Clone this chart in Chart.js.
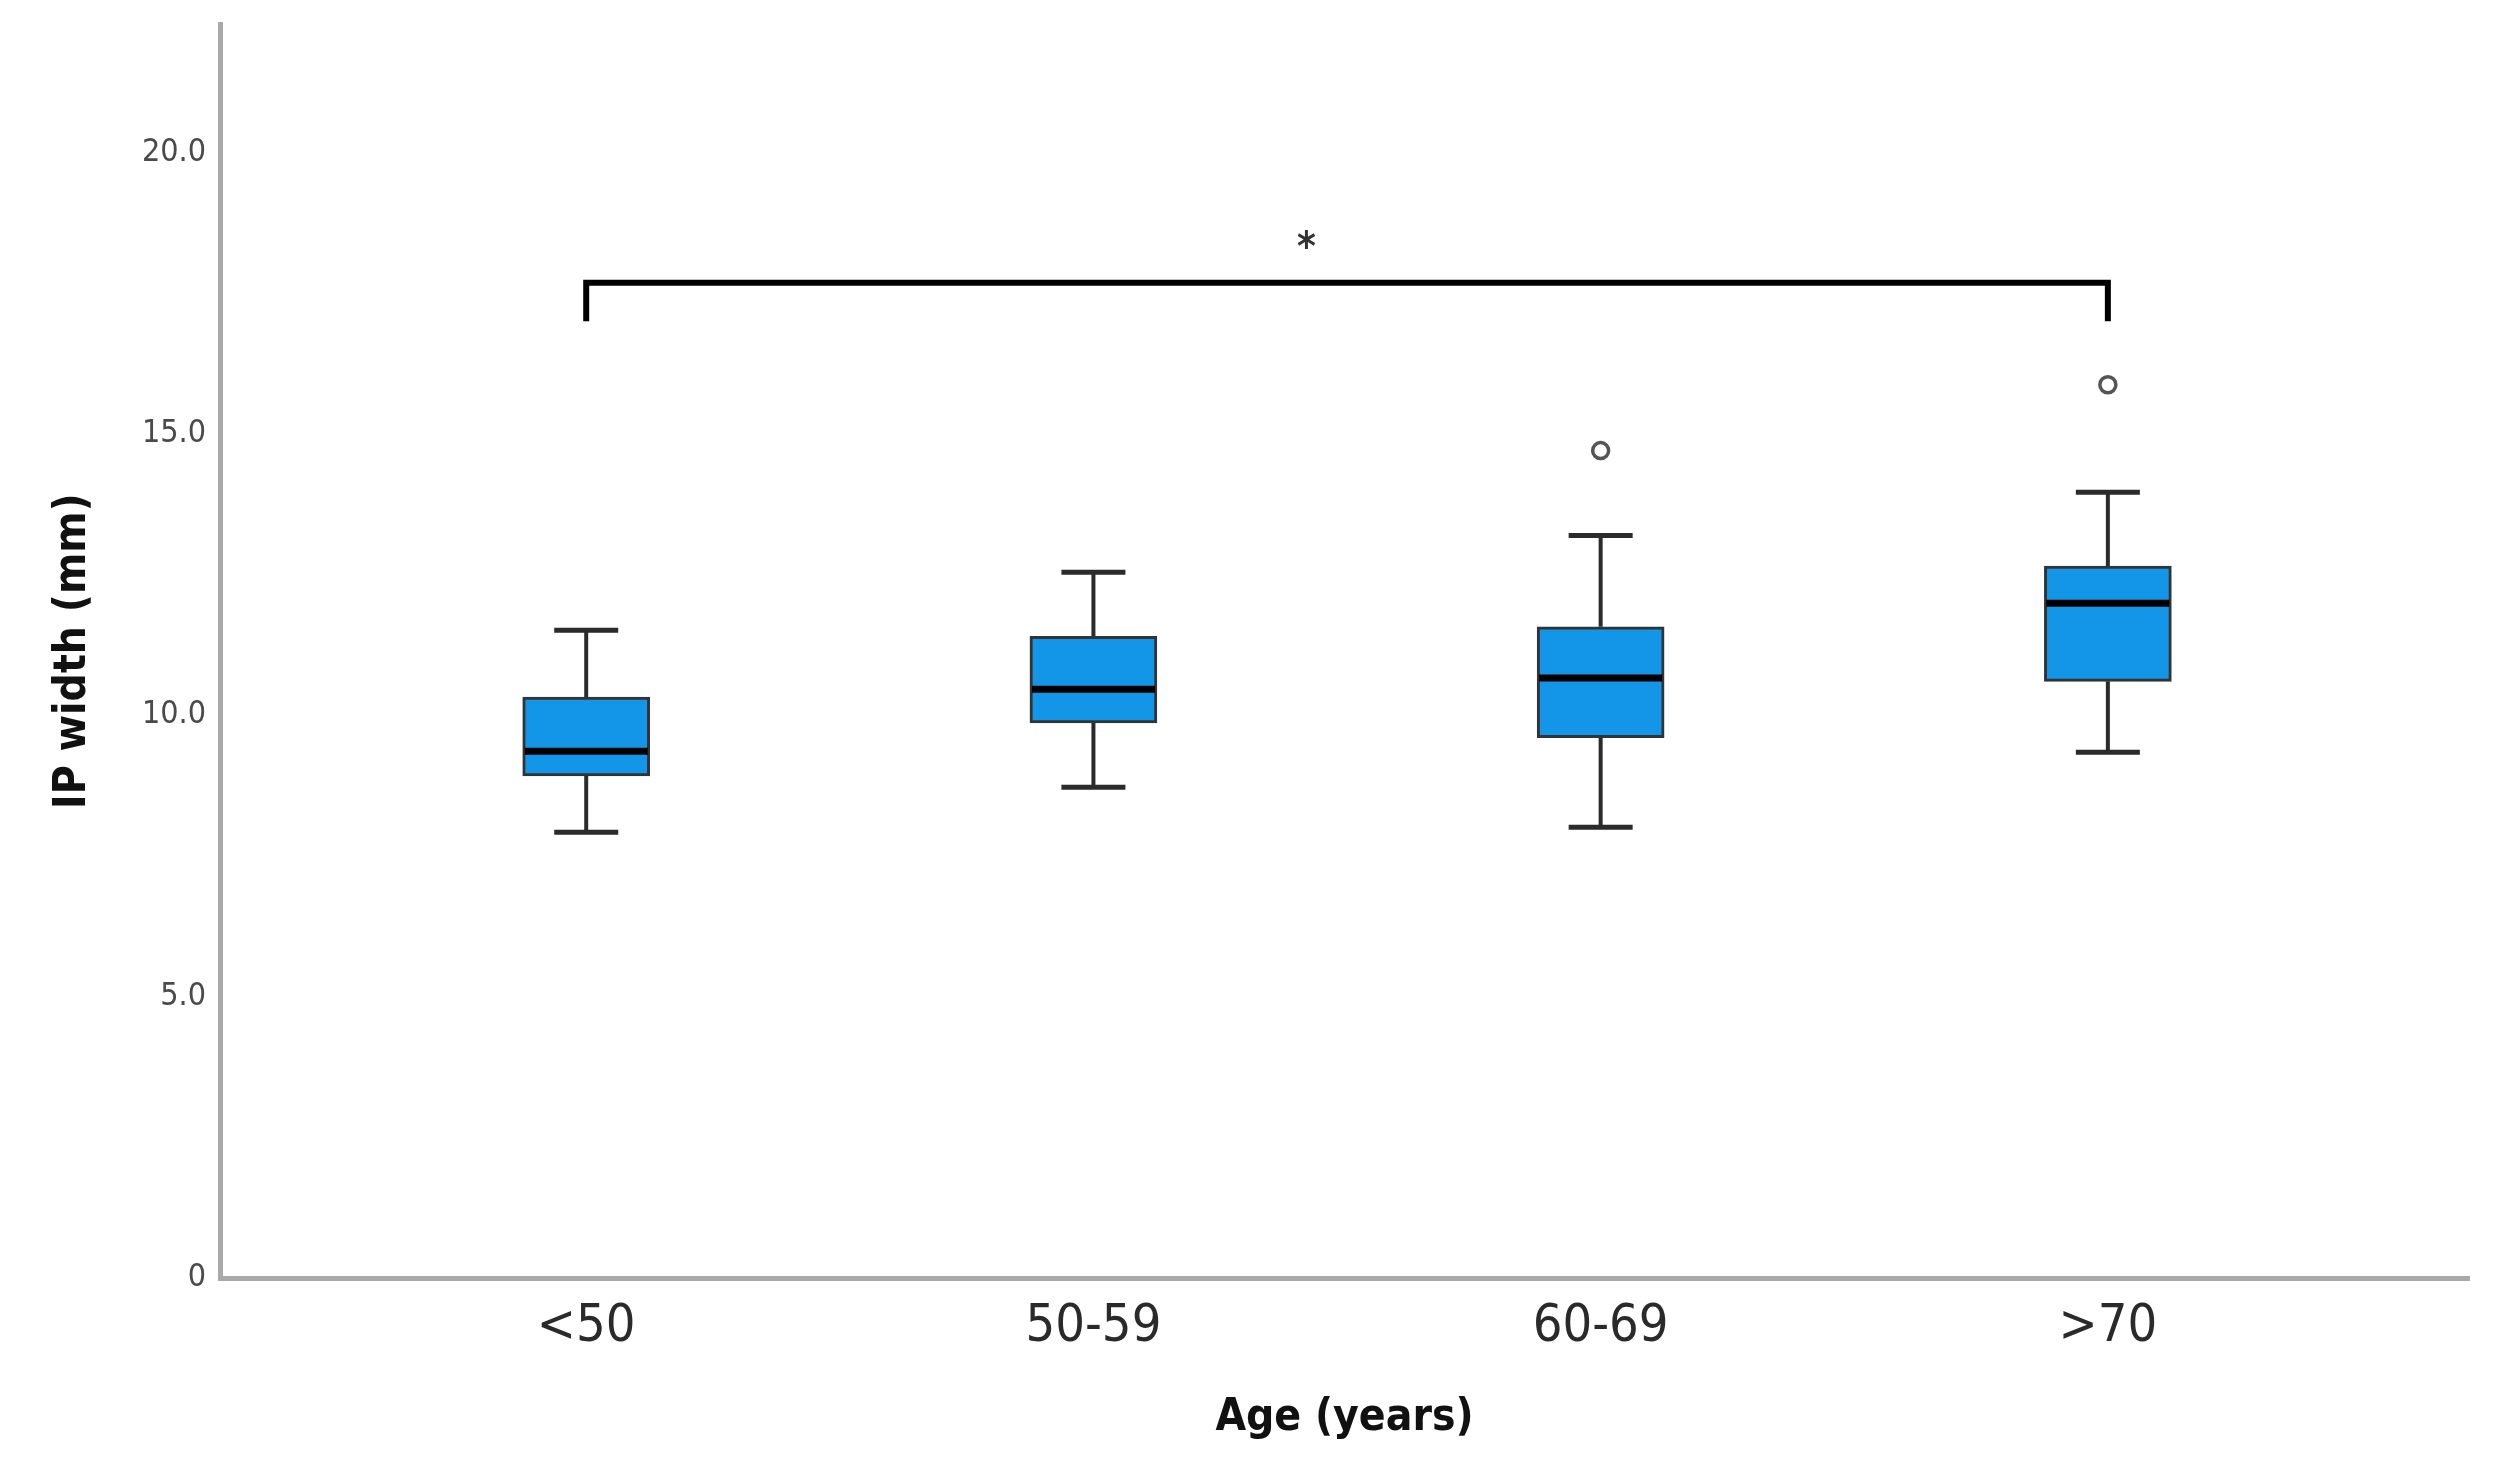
<!DOCTYPE html>
<html>
<head>
<meta charset="utf-8">
<script src="https://cdn.jsdelivr.net/npm/chart.js@4"></script>
<style>
  html, body { margin: 0; padding: 0; background: #fff; }
  #wrap { width: 2512px; height: 1473px; position: relative; }
</style>
</head>
<body>
<div id="wrap"><canvas id="boxChart"></canvas></div>
<script>
// Age groups and box plot summaries (IP width, mm)
const categories = ['<50', '50-59', '60-69', '>70'];
const whiskerLow = [7.92, 8.72, 8.01, 9.34];
const q1 = [8.92, 9.86, 9.60, 10.60];
const median = [9.36, 10.46, 10.66, 11.99];
const q3 = [10.32, 11.40, 11.57, 12.65];
const whiskerHigh = [11.51, 12.54, 13.19, 13.96];

// outliers: group position (1-based) and value
const outlierGroup = [3, 4];
const outlierValue = [14.70, 15.87];

// significance bracket between <50 and >70
const bracketGroups = [1, 4];
const bracketLevels = [17.0, 17.68];
const starPos = [2.42, 18.45];

const yTicks = [0, 5, 10, 15, 20];
const yTickLabels = ['0', '5.0', '10.0', '15.0', '20.0'];

const FONT = '"DejaVu Sans Condensed", "DejaVu Sans", sans-serif';
const BLUE = '#1496e8';

const groupX = categories.map((c, i) => i + 1);

// whiskers, caps, medians and the asterisk, drawn with the chart's scales
const boxExtras = {
  id: 'boxExtras',
  afterDatasetsDraw(chart) {
    const ctx = chart.ctx;
    const x = chart.scales.x, y = chart.scales.y;
    const boxW = 127, capW = 64;
    ctx.save();
    groupX.forEach((g, i) => {
      const px = x.getPixelForValue(g);
      ctx.strokeStyle = '#2b2b2b';
      ctx.lineCap = 'butt';
      ctx.lineWidth = 4;
      ctx.beginPath();
      ctx.moveTo(px, y.getPixelForValue(q3[i]));
      ctx.lineTo(px, y.getPixelForValue(whiskerHigh[i]));
      ctx.moveTo(px, y.getPixelForValue(q1[i]));
      ctx.lineTo(px, y.getPixelForValue(whiskerLow[i]));
      ctx.stroke();
      ctx.lineWidth = 5;
      ctx.beginPath();
      [whiskerHigh[i], whiskerLow[i]].forEach(v => {
        const py = y.getPixelForValue(v);
        ctx.moveTo(px - capW / 2, py);
        ctx.lineTo(px + capW / 2, py);
      });
      ctx.stroke();
      ctx.strokeStyle = '#000';
      ctx.lineWidth = 7;
      ctx.beginPath();
      const my = y.getPixelForValue(median[i]);
      ctx.moveTo(px - boxW / 2 + 2, my);
      ctx.lineTo(px + boxW / 2 - 2, my);
      ctx.stroke();
    });
    ctx.fillStyle = '#333';
    ctx.font = 'bold 40px ' + FONT;
    ctx.textAlign = 'center';
    ctx.textBaseline = 'alphabetic';
    ctx.fillText('*', x.getPixelForValue(starPos[0]), y.getPixelForValue(starPos[1]) + 20);
    ctx.restore();
  }
};

const data = {
  datasets: [
    {
      type: 'bar',
      label: 'IQR',
      data: groupX.map((g, i) => ({ x: g, y: [q1[i], q3[i]] })),
      backgroundColor: BLUE,
      borderColor: '#333',
      borderWidth: 3,
      borderSkipped: false,
      barThickness: 127,
      order: 2
    },
    {
      type: 'scatter',
      label: 'Outliers',
      data: outlierGroup.map((g, i) => ({ x: g, y: outlierValue[i] })),
      pointStyle: 'circle',
      pointRadius: 8,
      borderWidth: 3.5,
      borderColor: '#555',
      backgroundColor: '#fff',
      order: 1
    },
    {
      type: 'line',
      label: 'Bracket',
      data: [
        { x: bracketGroups[0], y: bracketLevels[0] },
        { x: bracketGroups[0], y: bracketLevels[1] },
        { x: bracketGroups[1], y: bracketLevels[1] },
        { x: bracketGroups[1], y: bracketLevels[0] }
      ],
      borderColor: '#000',
      borderWidth: 6,
      borderJoinStyle: 'miter',
      pointRadius: 0,
      tension: 0,
      fill: false,
      order: 0
    }
  ]
};

const config = {
  type: 'bar',
  data: data,
  options: {
    responsive: true,
    maintainAspectRatio: false,
    animation: false,
    layout: { padding: { top: 24.5, right: 43, left: 0, bottom: 0 } },
    plugins: { legend: { display: false }, tooltip: { enabled: false } },
    scales: {
      x: {
        type: 'linear',
        offset: false,
        min: 0.278,
        max: 4.712,
        grid: { display: false, drawTicks: false },
        border: { display: true, color: '#a9a9a9', width: 5 },
        afterBuildTicks: (scale) => { scale.ticks = groupX.map(v => ({ value: v })); },
        afterFit: (scale) => { scale.height = 195; scale.paddingLeft = 0; scale.paddingRight = 0; },
        ticks: {
          padding: 18,
          color: '#2a2a2a',
          font: { family: FONT, size: 52 },
          callback: (v) => categories[v - 1]
        },
        title: {
          display: true,
          text: 'Age (years)',
          color: '#111',
          font: { family: FONT, size: 44, weight: 'bold' },
          padding: { top: 0, bottom: 28 }
        }
      },
      y: {
        min: 0,
        max: 22.27,
        grid: { display: false, drawTicks: false },
        border: { display: true, color: '#a9a9a9', width: 5 },
        afterBuildTicks: (scale) => { scale.ticks = yTicks.map(v => ({ value: v })); },
        afterFit: (scale) => { scale.width = 220; scale.paddingTop = 0; scale.paddingBottom = 0; },
        ticks: {
          padding: 14,
          color: '#4a4a4a',
          font: { family: FONT, size: 32 },
          callback: (v) => yTickLabels[yTicks.indexOf(v)]
        },
        title: {
          display: true,
          text: 'IP width (mm)',
          color: '#111',
          font: { family: FONT, size: 44, weight: 'bold' },
          padding: { top: 47, bottom: 0 }
        }
      }
    }
  },
  plugins: [boxExtras]
};

window.onload = function () {
  var ctx = document.getElementById('boxChart').getContext('2d');
  window.boxChart = new Chart(ctx, config);
};
</script>
</body>
</html>
